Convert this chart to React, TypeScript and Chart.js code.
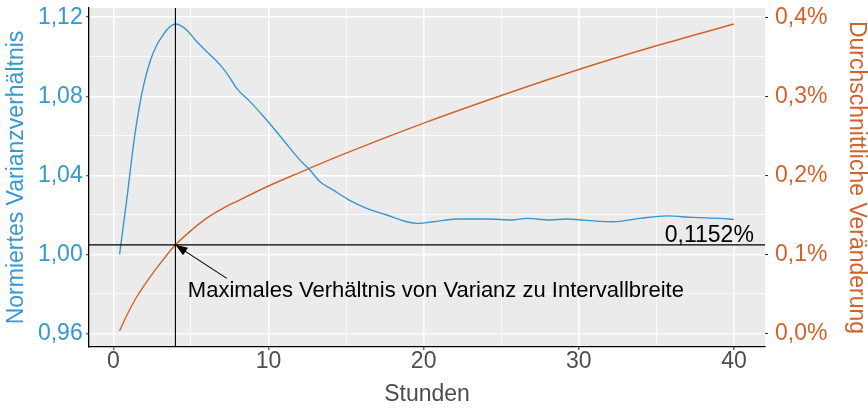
import React, { useEffect, useRef } from 'react';
import { Chart, registerables } from 'chart.js';

Chart.register(...registerables);

// ---- Data ----
const hoursRatio = [0.4, 0.86, 1.4, 1.93, 2.36, 2.8, 3.2, 3.54, 4.0, 4.4, 4.83, 5.37, 6.02, 6.88, 7.5, 7.95, 8.81, 9.88, 10.95, 12.03, 12.67, 13.32, 14.18, 15.2, 16.33, 17.62, 18.9, 19.65, 20.62, 22.12, 24.06, 25.77, 26.63, 28.14, 29.2, 30.5, 32.2, 33.94, 35.66, 37.37, 39.09, 40];
const varianceRatio = [1.0, 1.0275, 1.0613, 1.0849, 1.0975, 1.106, 1.111, 1.1144, 1.1166, 1.1155, 1.1127, 1.1077, 1.1026, 1.0959, 1.0895, 1.084, 1.0773, 1.068, 1.0579, 1.0477, 1.0427, 1.0368, 1.0325, 1.0275, 1.0233, 1.0199, 1.0165, 1.0157, 1.0165, 1.0179, 1.0179, 1.0174, 1.0182, 1.0174, 1.0179, 1.0172, 1.0165, 1.0182, 1.0195, 1.0187, 1.0182, 1.0177];

const hoursChange = [0.4, 0.7, 1.0, 1.5, 2.0, 2.5, 3.0, 3.5, 4.0, 5.0, 6.0, 7.0, 8.0, 10.0, 12.0, 15.0, 20.0, 25.0, 30.0, 35.0, 40.0];
const avgChange = [0.003, 0.016, 0.028, 0.046, 0.061, 0.075, 0.088, 0.1005, 0.112, 0.13, 0.1455, 0.1575, 0.1675, 0.1865, 0.2035, 0.228, 0.266, 0.301, 0.334, 0.364, 0.3915];

// Annotation values
const peakHour = 4.0;
const peakChange = 0.112; // right axis (%)
const peakLabel = '0,1152%';
const peakLabelPos = { x: 41.28, y: 0.1159 };
const noteText = 'Maximales Verhältnis von Varianz zu Intervallbreite';
const notePos = { x: 4.8, y: 0.0532 };
const arrowTail = { x: 7.31, y: 0.0696 };

// Axis ranges / titles
const xRange = { min: -1.57, max: 42.0 };
const leftRange = { min: 0.9531, max: 1.1247 };
const rightRange = { min: -0.0173, max: 0.4118 };
const xTitle = 'Stunden';
const leftTitle = 'Normiertes Varianzverhältnis';
const rightTitle = 'Durchschnittliche Veränderung';

const BLUE = '#3598D0';
const ORANGE = '#D3622A';
const GREY = '#4D4D4D';
const FONT = '"Liberation Sans", Arial, Helvetica, sans-serif';

const isMult = (v: number, step: number) => Math.abs(v / step - Math.round(v / step)) < 1e-6;

const panelBg = {
  id: 'panelBg',
  beforeDraw(chart: any) {
    const { ctx, chartArea: a } = chart;
    ctx.save();
    ctx.fillStyle = '#EBEBEB';
    ctx.fillRect(a.left, a.top, a.right - a.left, a.bottom - a.top);
    ctx.restore();
  },
};

const overlay = {
  id: 'overlay',
  afterDatasetsDraw(chart: any) {
    const { ctx, chartArea: a, scales } = chart;
    const sx = scales.x;
    const sy = scales.yR;
    ctx.save();
    ctx.strokeStyle = '#000';
    ctx.lineWidth = 1.1;
    const vx = sx.getPixelForValue(peakHour);
    ctx.beginPath();
    ctx.moveTo(vx, a.top);
    ctx.lineTo(vx, a.bottom);
    ctx.stroke();
    const hy = sy.getPixelForValue(peakChange);
    ctx.beginPath();
    ctx.moveTo(a.left, hy);
    ctx.lineTo(a.right, hy);
    ctx.stroke();

    // arrow
    const tx = sx.getPixelForValue(arrowTail.x);
    const ty = sy.getPixelForValue(arrowTail.y);
    const dx = tx - vx, dy = ty - hy;
    const len = Math.hypot(dx, dy);
    const ux = dx / len, uy = dy / len;
    const nx = -uy, ny = ux;
    const L = 12, W = 4.5;
    ctx.beginPath();
    ctx.moveTo(tx, ty);
    ctx.lineTo(vx + ux * L * 0.8, hy + uy * L * 0.8);
    ctx.stroke();
    ctx.fillStyle = '#000';
    ctx.beginPath();
    ctx.moveTo(vx, hy);
    ctx.lineTo(vx + ux * L + nx * W, hy + uy * L + ny * W);
    ctx.lineTo(vx + ux * L - nx * W, hy + uy * L - ny * W);
    ctx.closePath();
    ctx.fill();

    // texts
    ctx.font = `22px ${FONT}`;
    ctx.textAlign = 'left';
    ctx.textBaseline = 'middle';
    ctx.fillText(noteText, sx.getPixelForValue(notePos.x), sy.getPixelForValue(notePos.y));
    ctx.font = `23px ${FONT}`;
    ctx.textAlign = 'right';
    ctx.textBaseline = 'alphabetic';
    ctx.fillText(peakLabel, sx.getPixelForValue(peakLabelPos.x), sy.getPixelForValue(peakLabelPos.y));
    ctx.restore();
  },
};

function zeroPad(scale: any) {
  scale.paddingTop = 0;
  scale.paddingBottom = 0;
  scale.paddingLeft = 0;
  scale.paddingRight = 0;
}

export default function App() {
  const ref = useRef<HTMLCanvasElement>(null);
  useEffect(() => {
    if (!ref.current) return;
    const chart = new Chart(ref.current, {
      type: 'line',
      data: {
        datasets: [
          {
            label: leftTitle,
            data: hoursRatio.map((h, i) => ({ x: h, y: varianceRatio[i] })),
            borderColor: BLUE,
            borderWidth: 1.4,
            pointRadius: 0,
            cubicInterpolationMode: 'monotone',
            yAxisID: 'yL',
          },
          {
            label: rightTitle,
            data: hoursChange.map((h, i) => ({ x: h, y: avgChange[i] })),
            borderColor: ORANGE,
            borderWidth: 1.4,
            pointRadius: 0,
            cubicInterpolationMode: 'monotone',
            yAxisID: 'yR',
          },
        ],
      },
      options: {
        animation: false,
        responsive: false,
        maintainAspectRatio: false,
        layout: { padding: { top: 8, left: 0, right: 0, bottom: 0 } },
        plugins: { legend: { display: false }, tooltip: { enabled: false } },
        scales: {
          x: {
            type: 'linear',
            position: 'bottom',
            min: xRange.min,
            max: xRange.max,
            afterFit: (s: any) => { s.height = 61; zeroPad(s); },
            ticks: {
              stepSize: 5,
              includeBounds: false,
              autoSkip: false,
              maxRotation: 0,
              padding: 0,
              color: GREY,
              font: { family: FONT, size: 23, lineHeight: 1 },
              callback: (v: any) => (isMult(Number(v), 10) ? String(Math.round(Number(v))) : ''),
            },
            grid: {
              color: '#FFFFFF',
              lineWidth: (c: any) => (c.tick && isMult(c.tick.value, 10) ? 1.6 : 0.8),
              tickColor: (c: any) => (c.tick && isMult(c.tick.value, 10) ? '#333333' : 'rgba(0,0,0,0)'),
              tickLength: 3,
              tickWidth: 1.1,
            },
            border: { display: true, color: '#000', width: 1.3 },
            title: {
              display: true,
              text: xTitle,
              color: GREY,
              font: { family: FONT, size: 23, lineHeight: 1 },
              padding: { top: 0, bottom: 1.5 },
            },
          },
          yL: {
            type: 'linear',
            position: 'left',
            min: leftRange.min,
            max: leftRange.max,
            afterFit: (s: any) => { s.width = 89; zeroPad(s); },
            ticks: {
              stepSize: 0.02,
              includeBounds: false,
              autoSkip: false,
              padding: 3.3,
              color: BLUE,
              font: { family: FONT, size: 23, lineHeight: 1 },
              callback: (v: any) => (isMult(Number(v), 0.04) ? Number(v).toFixed(2).replace('.', ',') : ''),
            },
            grid: {
              color: '#FFFFFF',
              lineWidth: (c: any) => (c.tick && isMult(c.tick.value, 0.04) ? 1.6 : 0.8),
              tickColor: (c: any) => (c.tick && isMult(c.tick.value, 0.04) ? '#333333' : 'rgba(0,0,0,0)'),
              tickLength: 3,
              tickWidth: 1.1,
            },
            border: { display: true, color: '#000', width: 1.3 },
            title: {
              display: true,
              text: leftTitle,
              color: BLUE,
              font: { family: FONT, size: 23, lineHeight: 1 },
              padding: { top: 4.7, bottom: 0 },
            },
          },
          yR: {
            type: 'linear',
            position: 'right',
            min: rightRange.min,
            max: rightRange.max,
            afterFit: (s: any) => { s.width = 103; zeroPad(s); },
            ticks: {
              stepSize: 0.1,
              includeBounds: false,
              autoSkip: false,
              padding: 7,
              color: ORANGE,
              font: { family: FONT, size: 23, lineHeight: 1 },
              callback: (v: any) => Number(v).toFixed(1).replace('.', ',') + '%',
            },
            grid: {
              drawOnChartArea: false,
              color: 'rgba(0,0,0,0)',
              tickColor: '#333333',
              tickLength: 3,
              tickWidth: 1.1,
            },
            border: { display: false },
            title: {
              display: true,
              text: rightTitle,
              color: ORANGE,
              font: { family: FONT, size: 23, lineHeight: 1 },
              padding: { top: 0, bottom: 0 },
            },
          },
        },
      } as any,
      plugins: [panelBg, overlay],
    });
    return () => chart.destroy();
  }, []);

  return (
    <div style={{ position: 'absolute', left: 0, top: 0, width: 868, height: 408, background: '#FFFFFF' }}>
      <canvas ref={ref} width={868} height={408} style={{ display: 'block', width: 868, height: 408 }} />
    </div>
  );
}
